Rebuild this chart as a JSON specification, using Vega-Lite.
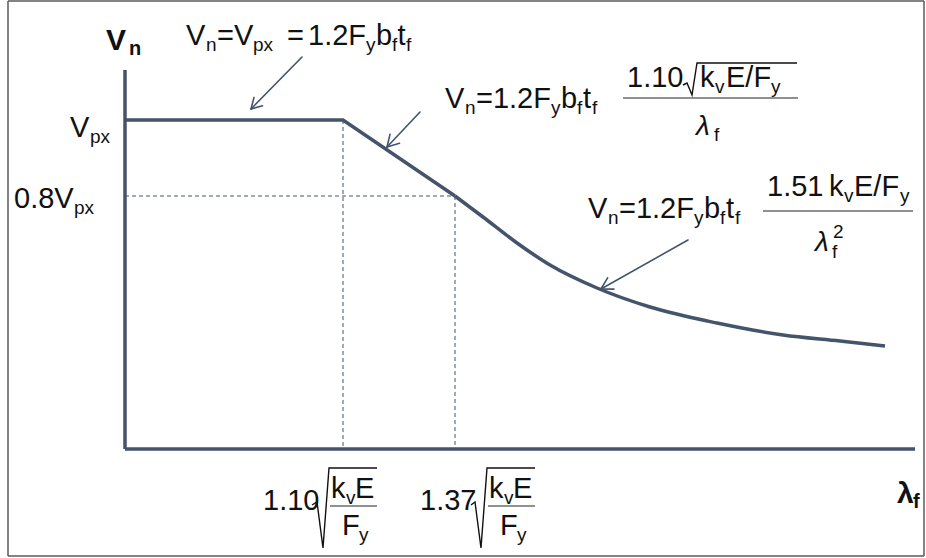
{
  "$schema": "https://vega.github.io/schema/vega-lite/v6.json",
  "width": 926,
  "height": 558,
  "autosize": {"type": "fit", "contains": "padding"},
  "padding": 0,
  "background": "white",
  "config": {"view": {"stroke": null}},
  "datasets": {
    "plastic": [
      {"lam": 0, "v": 329}, {"lam": 218, "v": 329}, {"lam": 330, "v": 253}
    ],
    "elastic": [
      {"lam": 330, "v": 253}, {"lam": 358, "v": 232}, {"lam": 392, "v": 206},
      {"lam": 425, "v": 184}, {"lam": 472, "v": 161}, {"lam": 525, "v": 142},
      {"lam": 592, "v": 126}, {"lam": 658, "v": 114}, {"lam": 715, "v": 108},
      {"lam": 760, "v": 103}
    ],
    "axes": [
      {"lam": 0, "v": 379, "lam2": 0, "v2": 0},
      {"lam": 0, "v": 0, "lam2": 790, "v2": 0}
    ],
    "guides": [
      {"lam": 218, "v": 329, "lam2": 218, "v2": 0},
      {"lam": 330, "v": 253, "lam2": 330, "v2": 0},
      {"lam": 0, "v": 253, "lam2": 330, "v2": 253}
    ],
    "arrows": [
      {"lam": 177, "v": 392, "lam2": 126, "v2": 340},
      {"lam": 126, "v": 340, "lam2": 137.5, "v2": 343.2},
      {"lam": 126, "v": 340, "lam2": 129, "v2": 351.6},
      {"lam": 295, "v": 337, "lam2": 262, "v2": 302},
      {"lam": 262, "v": 302, "lam2": 274.5, "v2": 305.7},
      {"lam": 262, "v": 302, "lam2": 265, "v2": 314.6},
      {"lam": 563, "v": 209, "lam2": 476, "v2": 160},
      {"lam": 476, "v": 160, "lam2": 489, "v2": 159.9},
      {"lam": 476, "v": 160, "lam2": 482.6, "v2": 171.2}
    ],
    "bars": [
      {"lam": 498, "v": 351, "lam2": 673, "v2": 351},
      {"lam": 638, "v": 238, "lam2": 788, "v2": 238},
      {"lam": 205, "v": -57, "lam2": 252, "v2": -57},
      {"lam": 363, "v": -57, "lam2": 410, "v2": -57}
    ],
    "radicals": [
      {"id": "n2", "seq": 1, "lam": 558, "v": 364},
      {"id": "n2", "seq": 2, "lam": 562, "v": 366},
      {"id": "n2", "seq": 3, "lam": 567, "v": 354},
      {"id": "n2", "seq": 4, "lam": 572, "v": 386},
      {"id": "n2", "seq": 5, "lam": 672, "v": 386},
      {"id": "b1", "seq": 1, "lam": 187, "v": -56},
      {"id": "b1", "seq": 2, "lam": 192, "v": -53},
      {"id": "b1", "seq": 3, "lam": 198, "v": -99},
      {"id": "b1", "seq": 4, "lam": 204, "v": -19},
      {"id": "b1", "seq": 5, "lam": 252, "v": -19},
      {"id": "b2", "seq": 1, "lam": 346, "v": -56},
      {"id": "b2", "seq": 2, "lam": 350, "v": -53},
      {"id": "b2", "seq": 3, "lam": 356, "v": -99},
      {"id": "b2", "seq": 4, "lam": 362, "v": -19},
      {"id": "b2", "seq": 5, "lam": 410, "v": -19}
    ],
    "frame": [
      {"lam": -117, "v": 448, "lam2": 799, "v2": 448},
      {"lam": -117, "v": -107, "lam2": 799, "v2": -107},
      {"lam": -117, "v": 448, "lam2": -117, "v2": -107},
      {"lam": 799, "v": 448, "lam2": 799, "v2": -107}
    ],
    "mainText": [
      {"lam": 61, "v": 404, "t": "V"}, {"lam": 92, "v": 404, "t": "=V"},
      {"lam": 162, "v": 404, "t": "="}, {"lam": 183, "v": 404, "t": "1.2F"},
      {"lam": 251, "v": 404, "t": "b"}, {"lam": 272.5, "v": 404, "t": "t"},
      {"lam": 320, "v": 341, "t": "V"}, {"lam": 351, "v": 341, "t": "=1.2F"},
      {"lam": 436, "v": 341, "t": "b"}, {"lam": 458, "v": 341, "t": "t"},
      {"lam": 502, "v": 362, "t": "1.10"}, {"lam": 575, "v": 362, "t": "k"},
      {"lam": 601, "v": 362, "t": "E/F"},
      {"lam": 463, "v": 231, "t": "V"}, {"lam": 494, "v": 231, "t": "=1.2F"},
      {"lam": 579, "v": 231, "t": "b"}, {"lam": 601, "v": 231, "t": "t"},
      {"lam": 642, "v": 253, "t": "1.51"}, {"lam": 704, "v": 253, "t": "k"},
      {"lam": 729, "v": 253, "t": "E/F"},
      {"lam": -55, "v": 312, "t": "V"}, {"lam": -111, "v": 241, "t": "0.8V"},
      {"lam": 138, "v": -61, "t": "1.10"}, {"lam": 206, "v": -49, "t": "k"},
      {"lam": 230, "v": -49, "t": "E"}, {"lam": 217, "v": -86, "t": "F"},
      {"lam": 295, "v": -61, "t": "1.37"}, {"lam": 364, "v": -49, "t": "k"},
      {"lam": 388, "v": -49, "t": "E"}, {"lam": 375, "v": -86, "t": "F"}
    ],
    "subText": [
      {"lam": 81, "v": 398, "t": "n"}, {"lam": 128, "v": 398, "t": "px"},
      {"lam": 241, "v": 398, "t": "y"}, {"lam": 267, "v": 398, "t": "f"},
      {"lam": 281, "v": 398, "t": "f"},
      {"lam": 340, "v": 335, "t": "n"}, {"lam": 426, "v": 335, "t": "y"},
      {"lam": 452, "v": 335, "t": "f"}, {"lam": 467, "v": 335, "t": "f"},
      {"lam": 590, "v": 356, "t": "v"}, {"lam": 646, "v": 356, "t": "y"},
      {"lam": 589, "v": 308, "t": "f"},
      {"lam": 483, "v": 225, "t": "n"}, {"lam": 569, "v": 225, "t": "y"},
      {"lam": 595, "v": 225, "t": "f"}, {"lam": 610, "v": 225, "t": "f"},
      {"lam": 719, "v": 247, "t": "v"}, {"lam": 775, "v": 247, "t": "y"},
      {"lam": 707, "v": 191, "t": "f"}, {"lam": 708, "v": 211, "t": "2"},
      {"lam": -35, "v": 306, "t": "px"}, {"lam": -51, "v": 235, "t": "px"},
      {"lam": 221, "v": -55, "t": "v"}, {"lam": 234, "v": -92, "t": "y"},
      {"lam": 379, "v": -55, "t": "v"}, {"lam": 392, "v": -92, "t": "y"}
    ],
    "greekText": [
      {"lam": 571, "v": 314, "t": "λ"},
      {"lam": 690, "v": 198, "t": "λ"}
    ],
    "boldText": [
      {"lam": -19, "v": 399, "t": "V"},
      {"lam": 772, "v": -54, "t": "λ"}
    ],
    "boldSubText": [
      {"lam": 4, "v": 394, "t": "n"},
      {"lam": 788, "v": -59, "t": "f"}
    ]
  },
  "encoding": {
    "x": {"field": "lam", "type": "quantitative", "axis": null,
          "scale": {"domain": [-125, 801], "nice": false, "zero": false}},
    "y": {"field": "v", "type": "quantitative", "axis": null,
          "scale": {"domain": [-109, 449], "nice": false, "zero": false}}
  },
  "layer": [
    {
      "data": {"name": "frame"},
      "mark": {"type": "rule", "color": "#5a5a5a", "strokeWidth": 1.5},
      "encoding": {"x2": {"field": "lam2"}, "y2": {"field": "v2"}}
    },
    {
      "data": {"name": "guides"},
      "mark": {"type": "rule", "color": "#44546a", "strokeWidth": 1, "strokeDash": [4, 3]},
      "encoding": {"x2": {"field": "lam2"}, "y2": {"field": "v2"}}
    },
    {
      "data": {"name": "axes"},
      "mark": {"type": "rule", "color": "#44546a", "strokeWidth": 3.5, "strokeCap": "butt"},
      "encoding": {"x2": {"field": "lam2"}, "y2": {"field": "v2"}}
    },
    {
      "data": {"name": "plastic"},
      "mark": {"type": "line", "color": "#44546a", "strokeWidth": 3.5, "interpolate": "linear", "strokeJoin": "miter"},
      "encoding": {}
    },
    {
      "data": {"name": "elastic"},
      "mark": {"type": "line", "color": "#44546a", "strokeWidth": 3.5, "interpolate": "monotone"},
      "encoding": {}
    },
    {
      "data": {"name": "arrows"},
      "mark": {"type": "rule", "color": "#44546a", "strokeWidth": 1.6, "strokeCap": "round"},
      "encoding": {"x2": {"field": "lam2"}, "y2": {"field": "v2"}}
    },
    {
      "data": {"name": "bars"},
      "mark": {"type": "rule", "color": "#222222", "strokeWidth": 1.2},
      "encoding": {"x2": {"field": "lam2"}, "y2": {"field": "v2"}}
    },
    {
      "data": {"name": "radicals"},
      "mark": {"type": "line", "color": "#111111", "strokeWidth": 1.4, "interpolate": "linear"},
      "encoding": {"detail": {"field": "id"}, "order": {"field": "seq"}}
    },
    {
      "data": {"name": "mainText"},
      "mark": {"type": "text", "font": "Liberation Sans", "fontSize": 29, "align": "left", "baseline": "alphabetic", "color": "#111111"},
      "encoding": {"text": {"field": "t"}}
    },
    {
      "data": {"name": "subText"},
      "mark": {"type": "text", "font": "Liberation Sans", "fontSize": 19, "align": "left", "baseline": "alphabetic", "color": "#111111"},
      "encoding": {"text": {"field": "t"}}
    },
    {
      "data": {"name": "greekText"},
      "mark": {"type": "text", "font": "Liberation Sans", "fontSize": 28, "fontStyle": "italic", "align": "left", "baseline": "alphabetic", "color": "#111111"},
      "encoding": {"text": {"field": "t"}}
    },
    {
      "data": {"name": "boldText"},
      "mark": {"type": "text", "font": "Liberation Sans", "fontSize": 30, "fontWeight": "bold", "align": "left", "baseline": "alphabetic", "color": "#111111"},
      "encoding": {"text": {"field": "t"}}
    },
    {
      "data": {"name": "boldSubText"},
      "mark": {"type": "text", "font": "Liberation Sans", "fontSize": 20, "fontWeight": "bold", "align": "left", "baseline": "alphabetic", "color": "#111111"},
      "encoding": {"text": {"field": "t"}}
    }
  ]
}
